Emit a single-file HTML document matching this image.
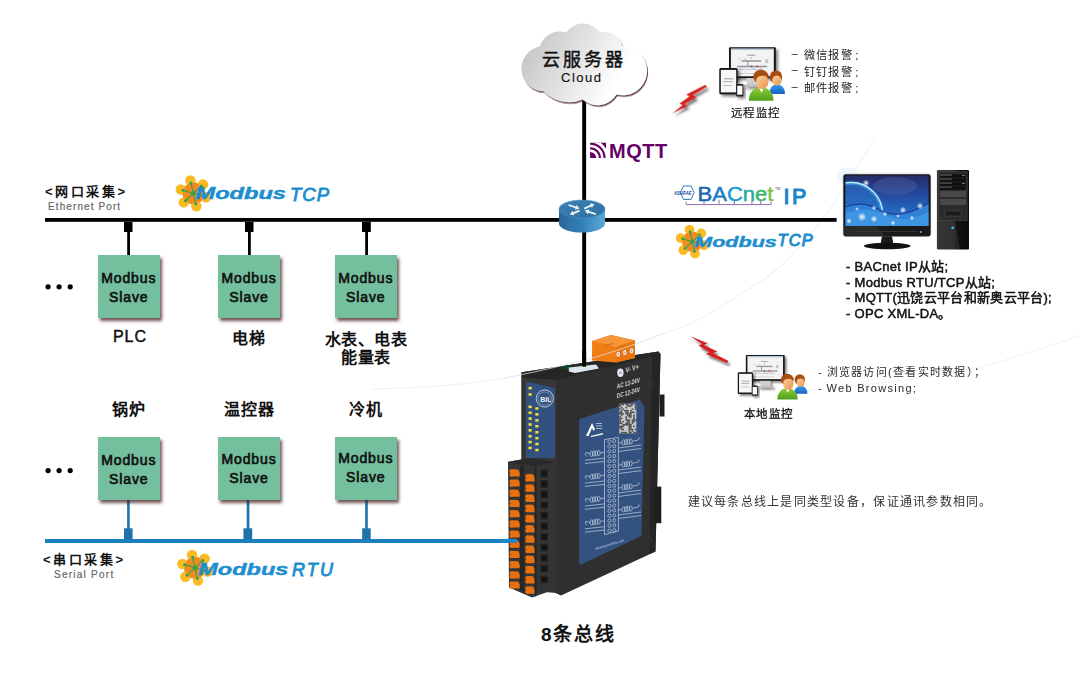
<!DOCTYPE html>
<html lang="zh-CN">
<head>
<meta charset="utf-8">
<style>
html,body{margin:0;padding:0;background:#fff;}
body{width:1080px;height:674px;position:relative;overflow:hidden;font-family:"Liberation Sans",sans-serif;color:#111;}
.a{position:absolute;white-space:nowrap;}
.box{position:absolute;width:62.5px;height:63px;background:#74c09e;box-shadow:2px 3px 3px rgba(70,30,30,0.75);}
.box span{position:absolute;left:0;right:0;text-align:center;font-weight:normal;-webkit-text-stroke:0.65px #111;font-size:14px;color:#111;letter-spacing:0.9px;}
.lbl{position:absolute;font-size:16px;font-weight:bold;color:#111;text-align:center;line-height:18px;}
svg{position:absolute;left:0;top:0;}
.mb{position:absolute;white-space:nowrap;color:#1b8dcc;font-style:italic;line-height:20px;}
.mb b{display:inline-block;font-size:16px;font-weight:bold;transform-origin:0 0;}
.mb i{display:inline-block;font-size:19px;font-weight:normal;font-style:italic;transform-origin:0 0;}
</style>
</head>
<body>
<svg width="1080" height="674" viewBox="0 0 1080 674"><defs>
  <symbol id="fl" overflow="visible"><circle cx="-2.97" cy="-12.86" r="5.2" fill="#fbb923"/><circle cx="9.65" cy="-9.00" r="5.2" fill="#fbb923"/><circle cx="12.62" cy="3.86" r="5.2" fill="#fbb923"/><circle cx="2.97" cy="12.86" r="5.2" fill="#fbb923"/><circle cx="-9.65" cy="9.00" r="5.2" fill="#fbb923"/><circle cx="-12.62" cy="-3.86" r="5.2" fill="#fbb923"/><circle cx="0" cy="0" r="6" fill="#f28a22"/><circle cx="1.90" cy="-6.22" r="4.6" fill="#f28a22"/><circle cx="6.33" cy="-1.46" r="4.6" fill="#f28a22"/><circle cx="4.43" cy="4.75" r="4.6" fill="#f28a22"/><circle cx="-1.90" cy="6.22" r="4.6" fill="#f28a22"/><circle cx="-6.33" cy="1.46" r="4.6" fill="#f28a22"/><circle cx="-4.43" cy="-4.75" r="4.6" fill="#f28a22"/><g stroke="#2aa54a" stroke-width="1.1" fill="#2aa54a"><line x1="0" y1="0" x2="-2.43" y2="-10.52"/><circle cx="-2.43" cy="-10.52" r="1.5" stroke="none"/><line x1="0" y1="0" x2="7.90" y2="-7.37"/><circle cx="7.90" cy="-7.37" r="1.5" stroke="none"/><line x1="0" y1="0" x2="10.33" y2="3.16"/><circle cx="10.33" cy="3.16" r="1.5" stroke="none"/><line x1="0" y1="0" x2="2.43" y2="10.52"/><circle cx="2.43" cy="10.52" r="1.5" stroke="none"/><line x1="0" y1="0" x2="-7.90" y2="7.37"/><circle cx="-7.90" cy="7.37" r="1.5" stroke="none"/><line x1="0" y1="0" x2="-10.33" y2="-3.16"/><circle cx="-10.33" cy="-3.16" r="1.5" stroke="none"/><circle cx="0" cy="0" r="2" fill="none" stroke-width="1"/></g></symbol>
  <linearGradient id="cloudg" x1="518" y1="30" x2="640" y2="100" gradientUnits="userSpaceOnUse">
    <stop offset="0" stop-color="#bcbcbc"/><stop offset="0.45" stop-color="#e2e2e2"/><stop offset="0.8" stop-color="#ffffff"/>
  </linearGradient>
  <filter id="cshadow" x="-10%" y="-10%" width="125%" height="130%">
    <feDropShadow dx="1" dy="1.5" stdDeviation="0.6" flood-color="#5a2e2e" flood-opacity="0.9"/>
  </filter>
  <linearGradient id="rside" x1="0" y1="0" x2="1" y2="0">
    <stop offset="0" stop-color="#2a679a"/><stop offset="0.5" stop-color="#3280b8"/><stop offset="1" stop-color="#5eaad6"/>
  </linearGradient>
  <linearGradient id="rtop" x1="0" y1="0" x2="1" y2="1">
    <stop offset="0" stop-color="#3d82b6"/><stop offset="1" stop-color="#2d6f9f"/>
  </linearGradient>
</defs>
  <g fill="none" stroke="#ebf4fb" stroke-width="1.2" stroke-linecap="round">
    <path d="M372.0,389.0 C383.3,388.5 418.7,387.5 440.0,385.8 C461.3,384.1 474.7,383.5 500.0,378.9 C525.3,374.3 565.3,365.3 592.0,358.0 C618.7,350.7 643.1,341.0 660.0,335.0 C676.9,329.0 684.0,326.4 693.3,322.2 C702.6,318.0 706.7,315.4 715.6,310.0 C724.5,304.6 735.6,297.6 746.7,290.0 C757.9,282.4 768.6,278.1 782.5,264.5 C796.4,250.9 814.8,229.6 830.2,208.5 C845.6,187.4 867.5,149.8 875.0,138.0"/>
    <path d="M795,391.5 C820,389 850,386.5 880,383 C910,379.5 935,376 960,371 C985,366 1000,362 1015.6,356.7 C1035,350 1060,343 1080,335.6"/>
  </g>
  <ellipse cx="848" cy="176" rx="11" ry="9" fill="#eef6fc"/>

  <rect x="45" y="218" width="791.6" height="3.8" fill="#000"/>
  <rect x="582.2" y="100" width="3.9" height="262" fill="#000"/>
  <g fill="#000">
    <rect x="124" y="222" width="8.5" height="10"/><rect x="127.2" y="231" width="2.8" height="24"/>
    <rect x="245" y="222" width="8.5" height="10"/><rect x="248" y="231" width="2.8" height="24"/>
    <rect x="362" y="222" width="8.8" height="10"/><rect x="365.2" y="231" width="2.8" height="24"/>
  </g>
  <g fill="#000">
    <circle cx="48.1" cy="286.8" r="2.6"/><circle cx="59.1" cy="286.8" r="2.6"/><circle cx="70.2" cy="286.8" r="2.6"/>
    <circle cx="48.1" cy="470.6" r="2.6"/><circle cx="59.1" cy="470.6" r="2.6"/><circle cx="70.2" cy="470.6" r="2.6"/>
  </g>
  <rect x="45" y="539" width="472" height="4" fill="#1b7fc0"/>
  <g fill="#1f72aa">
    <rect x="124" y="528.3" width="8.6" height="11"/><rect x="127.1" y="500" width="2.6" height="29"/>
    <rect x="243.4" y="528.3" width="8.8" height="11"/><rect x="246.7" y="500" width="2.7" height="29"/>
    <rect x="362.2" y="528.3" width="8.5" height="11"/><rect x="365.2" y="500" width="2.6" height="29"/>
  </g>
  <g filter="url(#cshadow)" fill="url(#cloudg)">
    <path d="M539.8,46.5 A20.7,20.7 0 0 1 566.3,32.6 A19.7,19.7 0 0 1 599.5,32.6 A19.1,19.1 0 0 1 622.8,46.5 A24.4,24.4 0 1 1 616.5,94.5 A22,22 0 0 1 582.7,99.5 A35,35 0 0 1 543.6,91.3 A22.6,22.6 0 0 1 539.8,46.5 Z"/>
  </g>
  <g>
    <path d="M559,209 L559,223.7 A23,8.9 0 0 0 605,223.7 L605,209 Z" fill="url(#rside)"/>
    <ellipse cx="582" cy="209" rx="23" ry="8.9" fill="url(#rtop)" stroke="#4a90c4" stroke-width="0.6"/>
    <g fill="#eef5fa" stroke="none"><path d="M568.22,205.86 L575.42,208.21 L574.95,209.64 L579.50,208.60 L576.44,205.07 L575.98,206.50 L568.78,204.14 Z"/><path d="M584.57,209.42 L591.21,206.45 L591.83,207.82 L594.50,204.00 L589.87,203.44 L590.48,204.81 L583.83,207.78 Z"/><path d="M579.16,209.77 L573.15,212.24 L572.58,210.86 L569.80,214.60 L574.41,215.29 L573.84,213.91 L579.84,211.43 Z"/><path d="M596.08,213.34 L588.88,210.99 L589.35,209.56 L584.80,210.60 L587.86,214.13 L588.32,212.70 L595.52,215.06 Z"/></g>
  </g>
  <clipPath id="mqclip"><rect x="590.1" y="142.8" width="15.9" height="15.2"/></clipPath>
  <g clip-path="url(#mqclip)">
    <rect x="590" y="142" width="17" height="17" fill="#660066"/>
    <g fill="none" stroke="#fff">
      <circle cx="590.1" cy="158" r="7.4" stroke-width="2.6"/>
      <circle cx="590.1" cy="158" r="12.1" stroke-width="2.5"/>
      <circle cx="590.1" cy="158" r="16.9" stroke-width="2.8"/>
    </g>
  </g>
  <use href="#fl" x="193.4" y="193.4"/>
  <g transform="translate(692.3,241.7) scale(0.93)"><use href="#fl"/></g>
  <use href="#fl" x="195" y="567.8"/>
  <g font-family="Liberation Sans" font-style="italic" fill="#1c8ecf">
    <text x="195.5" y="198.8" font-size="16" font-weight="bold" stroke="#1c8ecf" stroke-width="0.45" textLength="90.5" lengthAdjust="spacingAndGlyphs">Modbus</text>
    <text x="290" y="200.7" font-size="18.5" stroke="#1c8ecf" stroke-width="0.85" textLength="39" lengthAdjust="spacing">TCP</text>
    <text x="694.3" y="246.7" font-size="15" font-weight="bold" stroke="#1c8ecf" stroke-width="0.4" textLength="82.5" lengthAdjust="spacingAndGlyphs">Modbus</text>
    <text x="777.6" y="246.4" font-size="16.3" stroke="#1c8ecf" stroke-width="1" textLength="35" lengthAdjust="spacing">TCP</text>
    <text x="198.3" y="574.6" font-size="17" font-weight="bold" stroke="#1c8ecf" stroke-width="0.45" textLength="90" lengthAdjust="spacingAndGlyphs">Modbus</text>
    <text x="292" y="575.7" font-size="18" stroke="#1c8ecf" stroke-width="0.85" textLength="41" lengthAdjust="spacing">RTU</text>
  </g>
  <g font-family="Liberation Sans" font-weight="bold">
    <polyline points="686.2,201.8 686.2,204.6 771.1,204.6 771.1,201.8" fill="none" stroke="#8d70b0" stroke-width="1"/>
    <g stroke="#8d70b0" stroke-width="1"><line x1="704" y1="200.8" x2="704" y2="204.6"/><line x1="719" y1="199.5" x2="719" y2="204.6"/><line x1="734.4" y1="200.8" x2="734.4" y2="204.6"/><line x1="751.9" y1="200.8" x2="751.9" y2="204.6"/><line x1="760.7" y1="200.8" x2="760.7" y2="204.6"/></g>
    <path d="M683.5,186 L691,186 L694.2,192.6 L691,199.4 L683.5,199.4 L680.3,192.6 Z" fill="#fff" stroke="#2a78c0" stroke-width="1"/>
    <text x="674" y="195" font-size="5.2" fill="#1d4f9c" textLength="17.5" lengthAdjust="spacingAndGlyphs" font-style="italic">ASHRAE</text>
    <text x="697.5" y="200.7" font-size="20.5" font-weight="normal" stroke-width="0.45" textLength="76" lengthAdjust="spacingAndGlyphs"><tspan fill="#1565b0" stroke="#1565b0">B</tspan><tspan fill="#1a7cc4" stroke="#1a7cc4">A</tspan><tspan fill="#1b9ad2" stroke="#1b9ad2">C</tspan><tspan fill="#22a99c" stroke="#22a99c">n</tspan><tspan fill="#3db26a" stroke="#3db26a">e</tspan><tspan fill="#7cc242" stroke="#7cc242">t</tspan></text>
    <text x="775" y="190" font-size="3.5" fill="#888">TM</text>
    <text x="783.6" y="203.6" font-size="21.5" font-weight="normal" stroke="#1a85c8" stroke-width="1.1" fill="#1a85c8" letter-spacing="2.5">IP</text>
  </g>

  <defs>
    <linearGradient id="skin" x1="0" y1="0" x2="1" y2="1">
      <stop offset="0" stop-color="#fbd2a0"/><stop offset="1" stop-color="#e89550"/>
    </linearGradient>
    <linearGradient id="grn" x1="0" y1="0" x2="0" y2="1">
      <stop offset="0" stop-color="#8fcf3a"/><stop offset="1" stop-color="#4f9f1c"/>
    </linearGradient>
    <linearGradient id="blu" x1="0" y1="0" x2="0" y2="1">
      <stop offset="0" stop-color="#3aa0f0"/><stop offset="1" stop-color="#1560c0"/>
    </linearGradient>
    <filter id="dsh" x="-20%" y="-20%" width="150%" height="150%">
      <feDropShadow dx="2.2" dy="2.2" stdDeviation="1.6" flood-color="#000" flood-opacity="0.5"/>
    </filter>
    <filter id="lsh" x="-30%" y="-30%" width="170%" height="170%">
      <feDropShadow dx="2" dy="3" stdDeviation="1.2" flood-color="#000" flood-opacity="0.5"/>
    </filter>
    <symbol id="usr" overflow="visible">
      <g filter="url(#dsh)">
        <rect x="27.5" y="30" width="11.6" height="8" fill="#cfcfcf"/>
        <rect x="24" y="37.5" width="19" height="2" fill="#bdbdbd"/>
        <rect x="9.7" y="0" width="46.8" height="30.9" rx="1" fill="#141414"/>
      </g>
      <rect x="11.6" y="1.5" width="42.9" height="27.6" fill="#f3f3f3"/>
      <g fill="#9a9a9a">
        <rect x="28" y="7.5" width="8" height="1"/>
        <rect x="22" y="13" width="20" height="1.6"/><rect x="28" y="13" width="1.2" height="6"/>
        <rect x="18" y="18.5" width="30" height="1.6"/>
        <rect x="20" y="22" width="24" height="0.8" fill="#c0c0c0"/>
        <rect x="14" y="26" width="30" height="0.8" fill="#c8c8c8"/>
      </g>
      <rect x="31" y="18.5" width="2" height="1.6" fill="#3a70c0"/><rect x="37" y="18.5" width="2" height="1.6" fill="#c04040"/>
      <rect x="11.6" y="1.5" width="42.9" height="1.4" fill="#b4cde6"/>
      <g fill="#b8c8d8"><rect x="19" y="11" width="2" height="1.2"/><rect x="25" y="11" width="2" height="1.2"/><rect x="31" y="10" width="2" height="1.6"/><rect x="46" y="12" width="3" height="4"/><rect x="20" y="21" width="3" height="1"/><rect x="33" y="21" width="3" height="1"/><rect x="40" y="21" width="3" height="1"/></g>
      <rect x="0" y="20.8" width="18.4" height="26.2" rx="1.5" fill="#141414" filter="url(#dsh)"/>
      <rect x="1.5" y="22.7" width="15.4" height="22.5" fill="#f7f7f7"/>
      <g fill="#a8a8a8"><rect x="5" y="31" width="9" height="1.2"/><rect x="4" y="34" width="10" height="1"/><rect x="4" y="38" width="9" height="0.8"/></g>
      <rect x="16.9" y="36.7" width="7.2" height="12.5" rx="1.2" fill="#222" filter="url(#dsh)"/>
      <rect x="17.9" y="38.5" width="5.2" height="9" fill="#fafafa"/>
    </symbol>
    <symbol id="ppl" overflow="visible">
      <!-- back person (blue) -->
      <path d="M50,46.8 Q49.8,38.3 57.8,36.8 Q65.9,38.3 65.8,46.8 Z" fill="url(#blu)"/>
      <ellipse cx="56.7" cy="29.8" rx="6.2" ry="6.6" fill="#a84e14"/>
      <ellipse cx="57.6" cy="33.3" rx="4.7" ry="5.1" fill="url(#skin)"/>
      <path d="M52.2,30 Q55,26.5 61.6,28.5 L61.8,26 Q57,22.5 52,27 Z" fill="#a84e14"/>
      <!-- front person (green) -->
      <path d="M29.6,53.6 Q29.4,41.6 41.9,39.6 Q54.3,41.6 54.2,53.6 Z" fill="url(#grn)"/>
      <path d="M38.5,39.8 L42,44.5 L45.5,39.8 Z" fill="url(#skin)"/>
      <path d="M40.5,41.8 L42.2,45.5 L44,41.6 Z" fill="#fff"/>
      <ellipse cx="41.6" cy="29.6" rx="7.7" ry="7" fill="#a84e14"/>
      <ellipse cx="42.9" cy="34.8" rx="6.3" ry="6.9" fill="url(#skin)"/>
      <path d="M36,31.5 Q40,27 48.8,29.5 L49,27 Q43,22 35.5,27 Z" fill="#a84e14"/>
    </symbol>
  </defs>
  <use href="#usr" x="719.3" y="47.2"/><use href="#ppl" x="719.3" y="47.2"/>
  <g transform="translate(737.8,355) scale(0.83)"><use href="#usr"/><use href="#ppl" x="18"/></g>
  <!-- lightning -->
  <defs>
    <path id="bolt" d="M690.3,336.2 L707.7,343.3 L703.8,344.9 L717.3,351.5 L713,353.2 L728.6,360.9 L726.9,362.9 L705.8,353.9 L709.5,352.2 L698.4,345.6 L702,344 Z"/>
  </defs>
  <g filter="url(#lsh)">
    <use href="#bolt" fill="#d42424"/>
    <g transform="translate(672,113.6) scale(0.914,-1.08) translate(-690.3,-336.2)"><use href="#bolt" fill="#d42424"/></g>
  </g>
<g>
<path d="M521.5,372.3 L658.5,351.5 L660.5,354 L655.5,551.5 L561,595.5 L549,590 L521.5,590 Z" fill="#2f2f2f"/>
<path d="M521.5,372.3 L658.5,351.5 L660.5,354 L556.5,380 L521.5,377.5 Z" fill="#262626"/>
<path d="M521.5,377.5 L556.5,380 L556.5,593 L521.5,590 Z" fill="#363636"/>
<path d="M652,355.5 L660.5,354 L655.5,551.5 L649.5,554 Z" fill="#252525"/>
<rect x="659.5" y="394.5" width="5" height="22" fill="#1e1e1e"/>
<rect x="655" y="486.6" width="6.3" height="36.6" fill="#1e1e1e"/>
<path d="M562.4,366 L569.5,365.3 L569.5,369 L562.4,369.6 Z" fill="#0e4a1e"/>
<path d="M568.8,367.5 L596,364.5 L599,368.5 L575,373 L568.8,371.5 Z" fill="#dde4f2"/>
<rect x="582" y="365" width="5" height="2" fill="#5ae05a"/>
<path d="M592.1,341 L611,335 L635,340.5 L635,358 L616,362.5 L592,360.5 Z" fill="#f07e14"/>
<path d="M592.1,341 L611,335 L635,340.5 L616,347 Z" fill="#f6953a"/>
<path d="M616,347 L635,340.5 L635,358 L616,362.5 Z" fill="#e97510"/>
<path d="M604,345 L614,343 L614,344 L604,346 Z" fill="#c85a00" opacity="0.6"/>
<ellipse cx="618.2" cy="354.3" rx="1.7" ry="2.5" fill="#f4f6fa"/><ellipse cx="618.2" cy="354.3" rx="0.6" ry="1.2" fill="#8aa0c0"/>
<ellipse cx="624.8" cy="352.6" rx="1.7" ry="2.5" fill="#f4f6fa"/><ellipse cx="624.8" cy="352.6" rx="0.6" ry="1.2" fill="#8aa0c0"/>
<ellipse cx="631.6" cy="350.8" rx="1.7" ry="2.5" fill="#f4f6fa"/><ellipse cx="631.6" cy="350.8" rx="0.6" ry="1.2" fill="#8aa0c0"/>
<ellipse cx="620.4" cy="372.7" rx="3.2" ry="4.2" fill="#e2e4ee"/>
<circle cx="620.4" cy="372.7" r="1.2" fill="#aaa"/>
<g fill="#d6d6d6" font-family="Liberation Sans" font-weight="bold">
<text transform="translate(625.4,373) skewY(-16)" font-size="7.5" textLength="13.5" lengthAdjust="spacingAndGlyphs">V- V+</text>
<text transform="translate(616.8,388.7) skewY(-16)" font-size="6.8" textLength="23" lengthAdjust="spacingAndGlyphs">AC 12-24V</text>
<text transform="translate(616.8,398.2) skewY(-16)" font-size="6.8" textLength="23" lengthAdjust="spacingAndGlyphs">DC 12-24V</text>
</g>
<circle cx="581" cy="406" r="2.3" fill="#2a2a2a" stroke="#444" stroke-width="0.5"/>
<circle cx="651.3" cy="384.5" r="2.3" fill="#2a2a2a" stroke="#444" stroke-width="0.5"/>
<circle cx="597" cy="568" r="2.3" fill="#2a2a2a" stroke="#444" stroke-width="0.5"/>
<circle cx="650" cy="540" r="2.3" fill="#2a2a2a" stroke="#444" stroke-width="0.5"/>
<path d="M581,418.5 L640,399.5 L644.5,407.4 L641.5,536 L581,564.5 Q579.1,565 579.1,563 L579.1,420.5 Q579.1,419 581,418.5 Z" fill="#34527f"/>
<rect x="619.3" y="403.7" width="17" height="29.7" fill="#c9c9c9"/>
<rect x="619.30" y="403.70" width="1.55" height="1.57" fill="#4a4a4a"/>
<rect x="619.30" y="405.26" width="1.55" height="1.57" fill="#4a4a4a"/>
<rect x="619.30" y="408.39" width="1.55" height="1.57" fill="#4a4a4a"/>
<rect x="619.30" y="411.51" width="1.55" height="1.57" fill="#4a4a4a"/>
<rect x="619.30" y="413.08" width="1.55" height="1.57" fill="#4a4a4a"/>
<rect x="619.30" y="416.20" width="1.55" height="1.57" fill="#4a4a4a"/>
<rect x="619.30" y="417.77" width="1.55" height="1.57" fill="#4a4a4a"/>
<rect x="619.30" y="419.33" width="1.55" height="1.57" fill="#4a4a4a"/>
<rect x="619.30" y="420.89" width="1.55" height="1.57" fill="#4a4a4a"/>
<rect x="619.30" y="422.46" width="1.55" height="1.57" fill="#4a4a4a"/>
<rect x="619.30" y="425.58" width="1.55" height="1.57" fill="#4a4a4a"/>
<rect x="619.30" y="427.14" width="1.55" height="1.57" fill="#4a4a4a"/>
<rect x="620.84" y="403.70" width="1.55" height="1.57" fill="#4a4a4a"/>
<rect x="620.84" y="406.83" width="1.55" height="1.57" fill="#4a4a4a"/>
<rect x="620.84" y="409.95" width="1.55" height="1.57" fill="#4a4a4a"/>
<rect x="620.84" y="411.51" width="1.55" height="1.57" fill="#4a4a4a"/>
<rect x="620.84" y="413.08" width="1.55" height="1.57" fill="#4a4a4a"/>
<rect x="620.84" y="414.64" width="1.55" height="1.57" fill="#4a4a4a"/>
<rect x="620.84" y="417.77" width="1.55" height="1.57" fill="#4a4a4a"/>
<rect x="620.84" y="422.46" width="1.55" height="1.57" fill="#4a4a4a"/>
<rect x="620.84" y="425.58" width="1.55" height="1.57" fill="#4a4a4a"/>
<rect x="620.84" y="427.14" width="1.55" height="1.57" fill="#4a4a4a"/>
<rect x="620.84" y="428.71" width="1.55" height="1.57" fill="#4a4a4a"/>
<rect x="620.84" y="431.83" width="1.55" height="1.57" fill="#4a4a4a"/>
<rect x="622.39" y="403.70" width="1.55" height="1.57" fill="#4a4a4a"/>
<rect x="622.39" y="408.39" width="1.55" height="1.57" fill="#4a4a4a"/>
<rect x="622.39" y="413.08" width="1.55" height="1.57" fill="#4a4a4a"/>
<rect x="622.39" y="420.89" width="1.55" height="1.57" fill="#4a4a4a"/>
<rect x="622.39" y="424.02" width="1.55" height="1.57" fill="#4a4a4a"/>
<rect x="622.39" y="425.58" width="1.55" height="1.57" fill="#4a4a4a"/>
<rect x="622.39" y="428.71" width="1.55" height="1.57" fill="#4a4a4a"/>
<rect x="622.39" y="431.83" width="1.55" height="1.57" fill="#4a4a4a"/>
<rect x="623.93" y="409.95" width="1.55" height="1.57" fill="#4a4a4a"/>
<rect x="623.93" y="424.02" width="1.55" height="1.57" fill="#4a4a4a"/>
<rect x="623.93" y="431.83" width="1.55" height="1.57" fill="#4a4a4a"/>
<rect x="625.48" y="403.70" width="1.55" height="1.57" fill="#4a4a4a"/>
<rect x="625.48" y="406.83" width="1.55" height="1.57" fill="#4a4a4a"/>
<rect x="625.48" y="409.95" width="1.55" height="1.57" fill="#4a4a4a"/>
<rect x="625.48" y="411.51" width="1.55" height="1.57" fill="#4a4a4a"/>
<rect x="625.48" y="413.08" width="1.55" height="1.57" fill="#4a4a4a"/>
<rect x="625.48" y="416.20" width="1.55" height="1.57" fill="#4a4a4a"/>
<rect x="625.48" y="417.77" width="1.55" height="1.57" fill="#4a4a4a"/>
<rect x="625.48" y="419.33" width="1.55" height="1.57" fill="#4a4a4a"/>
<rect x="625.48" y="422.46" width="1.55" height="1.57" fill="#4a4a4a"/>
<rect x="625.48" y="424.02" width="1.55" height="1.57" fill="#4a4a4a"/>
<rect x="625.48" y="431.83" width="1.55" height="1.57" fill="#4a4a4a"/>
<rect x="627.02" y="403.70" width="1.55" height="1.57" fill="#4a4a4a"/>
<rect x="627.02" y="405.26" width="1.55" height="1.57" fill="#4a4a4a"/>
<rect x="627.02" y="409.95" width="1.55" height="1.57" fill="#4a4a4a"/>
<rect x="627.02" y="411.51" width="1.55" height="1.57" fill="#4a4a4a"/>
<rect x="627.02" y="413.08" width="1.55" height="1.57" fill="#4a4a4a"/>
<rect x="627.02" y="414.64" width="1.55" height="1.57" fill="#4a4a4a"/>
<rect x="627.02" y="419.33" width="1.55" height="1.57" fill="#4a4a4a"/>
<rect x="627.02" y="420.89" width="1.55" height="1.57" fill="#4a4a4a"/>
<rect x="627.02" y="422.46" width="1.55" height="1.57" fill="#4a4a4a"/>
<rect x="627.02" y="424.02" width="1.55" height="1.57" fill="#4a4a4a"/>
<rect x="628.57" y="405.26" width="1.55" height="1.57" fill="#4a4a4a"/>
<rect x="628.57" y="413.08" width="1.55" height="1.57" fill="#4a4a4a"/>
<rect x="628.57" y="414.64" width="1.55" height="1.57" fill="#4a4a4a"/>
<rect x="628.57" y="416.20" width="1.55" height="1.57" fill="#4a4a4a"/>
<rect x="628.57" y="419.33" width="1.55" height="1.57" fill="#4a4a4a"/>
<rect x="628.57" y="420.89" width="1.55" height="1.57" fill="#4a4a4a"/>
<rect x="628.57" y="422.46" width="1.55" height="1.57" fill="#4a4a4a"/>
<rect x="628.57" y="424.02" width="1.55" height="1.57" fill="#4a4a4a"/>
<rect x="628.57" y="425.58" width="1.55" height="1.57" fill="#4a4a4a"/>
<rect x="628.57" y="427.14" width="1.55" height="1.57" fill="#4a4a4a"/>
<rect x="628.57" y="428.71" width="1.55" height="1.57" fill="#4a4a4a"/>
<rect x="628.57" y="430.27" width="1.55" height="1.57" fill="#4a4a4a"/>
<rect x="628.57" y="431.83" width="1.55" height="1.57" fill="#4a4a4a"/>
<rect x="630.12" y="403.70" width="1.55" height="1.57" fill="#4a4a4a"/>
<rect x="630.12" y="405.26" width="1.55" height="1.57" fill="#4a4a4a"/>
<rect x="630.12" y="409.95" width="1.55" height="1.57" fill="#4a4a4a"/>
<rect x="630.12" y="411.51" width="1.55" height="1.57" fill="#4a4a4a"/>
<rect x="630.12" y="413.08" width="1.55" height="1.57" fill="#4a4a4a"/>
<rect x="630.12" y="414.64" width="1.55" height="1.57" fill="#4a4a4a"/>
<rect x="630.12" y="416.20" width="1.55" height="1.57" fill="#4a4a4a"/>
<rect x="630.12" y="424.02" width="1.55" height="1.57" fill="#4a4a4a"/>
<rect x="630.12" y="425.58" width="1.55" height="1.57" fill="#4a4a4a"/>
<rect x="630.12" y="427.14" width="1.55" height="1.57" fill="#4a4a4a"/>
<rect x="630.12" y="428.71" width="1.55" height="1.57" fill="#4a4a4a"/>
<rect x="630.12" y="431.83" width="1.55" height="1.57" fill="#4a4a4a"/>
<rect x="631.66" y="403.70" width="1.55" height="1.57" fill="#4a4a4a"/>
<rect x="631.66" y="408.39" width="1.55" height="1.57" fill="#4a4a4a"/>
<rect x="631.66" y="411.51" width="1.55" height="1.57" fill="#4a4a4a"/>
<rect x="631.66" y="419.33" width="1.55" height="1.57" fill="#4a4a4a"/>
<rect x="631.66" y="420.89" width="1.55" height="1.57" fill="#4a4a4a"/>
<rect x="631.66" y="422.46" width="1.55" height="1.57" fill="#4a4a4a"/>
<rect x="631.66" y="428.71" width="1.55" height="1.57" fill="#4a4a4a"/>
<rect x="631.66" y="430.27" width="1.55" height="1.57" fill="#4a4a4a"/>
<rect x="633.20" y="411.51" width="1.55" height="1.57" fill="#4a4a4a"/>
<rect x="633.20" y="414.64" width="1.55" height="1.57" fill="#4a4a4a"/>
<rect x="633.20" y="416.20" width="1.55" height="1.57" fill="#4a4a4a"/>
<rect x="633.20" y="417.77" width="1.55" height="1.57" fill="#4a4a4a"/>
<rect x="633.20" y="419.33" width="1.55" height="1.57" fill="#4a4a4a"/>
<rect x="633.20" y="420.89" width="1.55" height="1.57" fill="#4a4a4a"/>
<rect x="633.20" y="425.58" width="1.55" height="1.57" fill="#4a4a4a"/>
<rect x="633.20" y="431.83" width="1.55" height="1.57" fill="#4a4a4a"/>
<rect x="634.75" y="403.70" width="1.55" height="1.57" fill="#4a4a4a"/>
<rect x="634.75" y="405.26" width="1.55" height="1.57" fill="#4a4a4a"/>
<rect x="634.75" y="406.83" width="1.55" height="1.57" fill="#4a4a4a"/>
<rect x="634.75" y="408.39" width="1.55" height="1.57" fill="#4a4a4a"/>
<rect x="634.75" y="419.33" width="1.55" height="1.57" fill="#4a4a4a"/>
<rect x="634.75" y="428.71" width="1.55" height="1.57" fill="#4a4a4a"/>
<rect x="634.75" y="431.83" width="1.55" height="1.57" fill="#4a4a4a"/>
<path d="M586,436 L592,423 L595,429 L593.5,431 L592,428 L588.5,436 Z" fill="#fff"/>
<path d="M590.5,436 L603,433 L603,434.5 L591,437 Z" fill="#fff"/>
<g fill="#c8d4e8"><rect x="596" y="423" width="6" height="0.8"/><rect x="596" y="425.5" width="6" height="0.8"/><rect x="596" y="428" width="6" height="0.8"/></g>
<g fill="none" stroke="#c9d5e8" stroke-width="0.75" opacity="0.9">
<path d="M604.5,439.5 L618.4,437.4 L618.4,531 L604.5,534.6 Z"/>
<circle cx="609.4" cy="441.5" r="1.6"/><circle cx="614.2" cy="441.1" r="1.6"/>
<circle cx="609.4" cy="446.4" r="1.6"/><circle cx="614.2" cy="446.1" r="1.6"/>
<circle cx="609.4" cy="451.4" r="1.6"/><circle cx="614.2" cy="451.0" r="1.6"/>
<circle cx="609.4" cy="456.4" r="1.6"/><circle cx="614.2" cy="456.0" r="1.6"/>
<circle cx="609.4" cy="461.3" r="1.6"/><circle cx="614.2" cy="460.9" r="1.6"/>
<circle cx="609.4" cy="466.2" r="1.6"/><circle cx="614.2" cy="465.9" r="1.6"/>
<circle cx="609.4" cy="471.2" r="1.6"/><circle cx="614.2" cy="470.8" r="1.6"/>
<circle cx="609.4" cy="476.1" r="1.6"/><circle cx="614.2" cy="475.8" r="1.6"/>
<circle cx="609.4" cy="481.1" r="1.6"/><circle cx="614.2" cy="480.7" r="1.6"/>
<circle cx="609.4" cy="486.1" r="1.6"/><circle cx="614.2" cy="485.7" r="1.6"/>
<circle cx="609.4" cy="491.0" r="1.6"/><circle cx="614.2" cy="490.6" r="1.6"/>
<circle cx="609.4" cy="495.9" r="1.6"/><circle cx="614.2" cy="495.6" r="1.6"/>
<circle cx="609.4" cy="500.9" r="1.6"/><circle cx="614.2" cy="500.5" r="1.6"/>
<circle cx="609.4" cy="505.9" r="1.6"/><circle cx="614.2" cy="505.5" r="1.6"/>
<circle cx="609.4" cy="510.8" r="1.6"/><circle cx="614.2" cy="510.4" r="1.6"/>
<circle cx="609.4" cy="515.8" r="1.6"/><circle cx="614.2" cy="515.4" r="1.6"/>
<circle cx="609.4" cy="520.7" r="1.6"/><circle cx="614.2" cy="520.3" r="1.6"/>
<circle cx="609.4" cy="525.6" r="1.6"/><circle cx="614.2" cy="525.2" r="1.6"/>
<circle cx="609.4" cy="530.6" r="1.6"/><circle cx="614.2" cy="530.2" r="1.6"/>
<path d="M587,456.5 q-3,-2 -1,-4 L590,454.0"/>
<ellipse cx="591.5" cy="453.9" rx="1.5" ry="2.6"/>
<ellipse cx="593.9" cy="453.6" rx="1.5" ry="2.6"/>
<ellipse cx="596.3" cy="453.3" rx="1.5" ry="2.6"/>
<ellipse cx="598.7" cy="453.0" rx="1.5" ry="2.6"/>
<path d="M600.5,452.7 L604.5,452.3"/>
<path d="M585,460.2 L604.5,458.1"/><path d="M585,463.5 L604.5,461.5"/>
<path d="M587,479.4 q-3,-2 -1,-4 L590,476.9"/>
<ellipse cx="591.5" cy="476.8" rx="1.5" ry="2.6"/>
<ellipse cx="593.9" cy="476.5" rx="1.5" ry="2.6"/>
<ellipse cx="596.3" cy="476.2" rx="1.5" ry="2.6"/>
<ellipse cx="598.7" cy="475.9" rx="1.5" ry="2.6"/>
<path d="M600.5,475.6 L604.5,475.2"/>
<path d="M585,483.1 L604.5,481.0"/><path d="M585,486.4 L604.5,484.4"/>
<path d="M587,502.3 q-3,-2 -1,-4 L590,499.8"/>
<ellipse cx="591.5" cy="499.7" rx="1.5" ry="2.6"/>
<ellipse cx="593.9" cy="499.4" rx="1.5" ry="2.6"/>
<ellipse cx="596.3" cy="499.1" rx="1.5" ry="2.6"/>
<ellipse cx="598.7" cy="498.8" rx="1.5" ry="2.6"/>
<path d="M600.5,498.5 L604.5,498.1"/>
<path d="M585,506.0 L604.5,503.9"/><path d="M585,509.3 L604.5,507.3"/>
<path d="M587,525.1 q-3,-2 -1,-4 L590,522.6"/>
<ellipse cx="591.5" cy="522.5" rx="1.5" ry="2.6"/>
<ellipse cx="593.9" cy="522.2" rx="1.5" ry="2.6"/>
<ellipse cx="596.3" cy="521.9" rx="1.5" ry="2.6"/>
<ellipse cx="598.7" cy="521.6" rx="1.5" ry="2.6"/>
<path d="M600.5,521.3 L604.5,520.9"/>
<path d="M585,528.8 L604.5,526.7"/><path d="M585,532.1 L604.5,530.1"/>
<path d="M618.4,443.0 L622,442.6"/>
<ellipse cx="623.5" cy="442.4" rx="1.5" ry="2.6"/>
<ellipse cx="625.9" cy="442.1" rx="1.5" ry="2.6"/>
<ellipse cx="628.3" cy="441.8" rx="1.5" ry="2.6"/>
<ellipse cx="630.7" cy="441.5" rx="1.5" ry="2.6"/>
<path d="M632.5,441.0 L637,440.4 q3,-1 2,-3"/>
<path d="M618.4,448.0 L641,445.0"/><path d="M618.4,451.5 L641,448.5"/>
<path d="M618.4,465.1 L622,464.7"/>
<ellipse cx="623.5" cy="464.5" rx="1.5" ry="2.6"/>
<ellipse cx="625.9" cy="464.2" rx="1.5" ry="2.6"/>
<ellipse cx="628.3" cy="463.9" rx="1.5" ry="2.6"/>
<ellipse cx="630.7" cy="463.6" rx="1.5" ry="2.6"/>
<path d="M632.5,463.1 L637,462.5 q3,-1 2,-3"/>
<path d="M618.4,470.1 L641,467.1"/><path d="M618.4,473.6 L641,470.6"/>
<path d="M618.4,488.0 L622,487.6"/>
<ellipse cx="623.5" cy="487.4" rx="1.5" ry="2.6"/>
<ellipse cx="625.9" cy="487.1" rx="1.5" ry="2.6"/>
<ellipse cx="628.3" cy="486.8" rx="1.5" ry="2.6"/>
<ellipse cx="630.7" cy="486.5" rx="1.5" ry="2.6"/>
<path d="M632.5,486.0 L637,485.4 q3,-1 2,-3"/>
<path d="M618.4,493.0 L641,490.0"/><path d="M618.4,496.5 L641,493.5"/>
<path d="M618.4,510.0 L622,509.6"/>
<ellipse cx="623.5" cy="509.4" rx="1.5" ry="2.6"/>
<ellipse cx="625.9" cy="509.1" rx="1.5" ry="2.6"/>
<ellipse cx="628.3" cy="508.8" rx="1.5" ry="2.6"/>
<ellipse cx="630.7" cy="508.5" rx="1.5" ry="2.6"/>
<path d="M632.5,508.0 L637,507.4 q3,-1 2,-3"/>
<path d="M618.4,515.0 L641,512.0"/><path d="M618.4,518.5 L641,515.5"/>
</g>
<text transform="translate(595.5,550) rotate(-17)" font-family="Liberation Sans" font-size="3.6" fill="#c8d4e8" textLength="30" lengthAdjust="spacingAndGlyphs">www.bacnetchina.com</text>
<path d="M526,381.5 L555,388 L555,458 L526,458 Z" fill="#33517f"/>
<circle cx="544.8" cy="398.5" r="8.6" fill="none" stroke="#dfe6f2" stroke-width="0.8"/>
<circle cx="544.8" cy="398.5" r="6.6" fill="none" stroke="#dfe6f2" stroke-width="0.4"/>
<text x="540.3" y="401.5" font-family="Liberation Sans" font-weight="bold" font-size="7" fill="#eef2f8">BIL</text>
<rect x="528.5" y="386.9" width="3.2" height="2.5" fill="#f2e23a"/>
<rect x="528.5" y="393.2" width="3.2" height="2.5" fill="#f2e23a"/>
<rect x="528.5" y="405.6" width="3.2" height="2.5" fill="#f2e23a"/>
<rect x="528.5" y="411.5" width="3.2" height="2.5" fill="#f2e23a"/>
<rect x="528.5" y="417.3" width="3.2" height="2.5" fill="#f2e23a"/>
<rect x="528.5" y="423.2" width="3.2" height="2.5" fill="#f2e23a"/>
<rect x="528.5" y="429.1" width="3.2" height="2.5" fill="#f2e23a"/>
<rect x="528.5" y="435.0" width="3.2" height="2.5" fill="#f2e23a"/>
<rect x="528.5" y="440.8" width="3.2" height="2.5" fill="#f2e23a"/>
<rect x="528.5" y="446.7" width="3.2" height="2.5" fill="#f2e23a"/>
<rect x="535.3" y="407.2" width="3.2" height="2.5" fill="#f2e23a"/>
<rect x="535.3" y="413.1" width="3.2" height="2.5" fill="#f2e23a"/>
<rect x="535.3" y="419.1" width="3.2" height="2.5" fill="#f2e23a"/>
<rect x="535.3" y="425.0" width="3.2" height="2.5" fill="#f2e23a"/>
<rect x="535.3" y="431.0" width="3.2" height="2.5" fill="#f2e23a"/>
<rect x="535.3" y="436.9" width="3.2" height="2.5" fill="#f2e23a"/>
<rect x="535.3" y="442.8" width="3.2" height="2.5" fill="#f2e23a"/>
<rect x="535.3" y="448.8" width="3.2" height="2.5" fill="#f2e23a"/>
<path d="M508,462 L530,458 L556,462 L556,589 L532,597.5 L509,587.5 Z" fill="#343434"/>
<path d="M507,462 L530,458 L556,462 L535,466 Z" fill="#2a2a2a"/>
<path d="M520,466 L524,466 L524,592 L520,590.5 Z" fill="#262626"/>
<path d="M535,466 L536.5,466 L536.5,596 L535,596.5 Z" fill="#222"/>
<rect x="540" y="469.0" width="8.5" height="8.6" fill="#232323" stroke="#3c3c3c" stroke-width="0.5"/>
<rect x="541.5" y="471.0" width="5.5" height="4.6" fill="#141414"/>
<rect x="540" y="479.6" width="8.5" height="8.6" fill="#232323" stroke="#3c3c3c" stroke-width="0.5"/>
<rect x="541.5" y="481.6" width="5.5" height="4.6" fill="#141414"/>
<rect x="540" y="490.2" width="8.5" height="8.6" fill="#232323" stroke="#3c3c3c" stroke-width="0.5"/>
<rect x="541.5" y="492.2" width="5.5" height="4.6" fill="#141414"/>
<rect x="540" y="500.8" width="8.5" height="8.6" fill="#232323" stroke="#3c3c3c" stroke-width="0.5"/>
<rect x="541.5" y="502.8" width="5.5" height="4.6" fill="#141414"/>
<rect x="540" y="511.4" width="8.5" height="8.6" fill="#232323" stroke="#3c3c3c" stroke-width="0.5"/>
<rect x="541.5" y="513.4" width="5.5" height="4.6" fill="#141414"/>
<rect x="540" y="522.0" width="8.5" height="8.6" fill="#232323" stroke="#3c3c3c" stroke-width="0.5"/>
<rect x="541.5" y="524.0" width="5.5" height="4.6" fill="#141414"/>
<rect x="540" y="532.6" width="8.5" height="8.6" fill="#232323" stroke="#3c3c3c" stroke-width="0.5"/>
<rect x="541.5" y="534.6" width="5.5" height="4.6" fill="#141414"/>
<rect x="540" y="543.2" width="8.5" height="8.6" fill="#232323" stroke="#3c3c3c" stroke-width="0.5"/>
<rect x="541.5" y="545.2" width="5.5" height="4.6" fill="#141414"/>
<rect x="540" y="553.8" width="8.5" height="8.6" fill="#232323" stroke="#3c3c3c" stroke-width="0.5"/>
<rect x="541.5" y="555.8" width="5.5" height="4.6" fill="#141414"/>
<rect x="540" y="564.4" width="8.5" height="8.6" fill="#232323" stroke="#3c3c3c" stroke-width="0.5"/>
<rect x="541.5" y="566.4" width="5.5" height="4.6" fill="#141414"/>
<rect x="540" y="575.0" width="8.5" height="8.6" fill="#232323" stroke="#3c3c3c" stroke-width="0.5"/>
<rect x="541.5" y="577.0" width="5.5" height="4.6" fill="#141414"/>
<path d="M511.5,469.2 L518.0,469.4 Q519.7,471.3 519.7,473.8 L519.5,476.4 L511.5,476.4 Z" fill="#e8700e"/>
<circle cx="511.4" cy="471.2" r="2" fill="#e8700e"/><circle cx="511.4" cy="474.7" r="2" fill="#e8700e"/>
<path d="M511.5,479.4 L518.0,479.6 Q519.7,481.5 519.7,484.0 L519.5,486.6 L511.5,486.6 Z" fill="#e8700e"/>
<circle cx="511.4" cy="481.4" r="2" fill="#e8700e"/><circle cx="511.4" cy="484.9" r="2" fill="#e8700e"/>
<path d="M511.5,489.6 L518.0,489.8 Q519.7,491.7 519.7,494.2 L519.5,496.8 L511.5,496.8 Z" fill="#e8700e"/>
<circle cx="511.4" cy="491.6" r="2" fill="#e8700e"/><circle cx="511.4" cy="495.1" r="2" fill="#e8700e"/>
<path d="M511.5,499.8 L518.0,500.0 Q519.7,501.9 519.7,504.4 L519.5,507.0 L511.5,507.0 Z" fill="#e8700e"/>
<circle cx="511.4" cy="501.8" r="2" fill="#e8700e"/><circle cx="511.4" cy="505.3" r="2" fill="#e8700e"/>
<path d="M511.5,510.0 L518.0,510.2 Q519.7,512.1 519.7,514.6 L519.5,517.2 L511.5,517.2 Z" fill="#e8700e"/>
<circle cx="511.4" cy="512.0" r="2" fill="#e8700e"/><circle cx="511.4" cy="515.5" r="2" fill="#e8700e"/>
<path d="M511.5,520.2 L518.0,520.4 Q519.7,522.3 519.7,524.8 L519.5,527.4 L511.5,527.4 Z" fill="#e8700e"/>
<circle cx="511.4" cy="522.2" r="2" fill="#e8700e"/><circle cx="511.4" cy="525.7" r="2" fill="#e8700e"/>
<path d="M511.5,530.4 L518.0,530.6 Q519.7,532.5 519.7,535.0 L519.5,537.6 L511.5,537.6 Z" fill="#e8700e"/>
<circle cx="511.4" cy="532.4" r="2" fill="#e8700e"/><circle cx="511.4" cy="535.9" r="2" fill="#e8700e"/>
<path d="M511.5,540.6 L518.0,540.8 Q519.7,542.7 519.7,545.2 L519.5,547.8 L511.5,547.8 Z" fill="#e8700e"/>
<circle cx="511.4" cy="542.6" r="2" fill="#e8700e"/><circle cx="511.4" cy="546.1" r="2" fill="#e8700e"/>
<path d="M511.5,550.8 L518.0,551.0 Q519.7,552.9 519.7,555.4 L519.5,558.0 L511.5,558.0 Z" fill="#e8700e"/>
<circle cx="511.4" cy="552.8" r="2" fill="#e8700e"/><circle cx="511.4" cy="556.3" r="2" fill="#e8700e"/>
<path d="M511.5,561.0 L518.0,561.2 Q519.7,563.1 519.7,565.6 L519.5,568.2 L511.5,568.2 Z" fill="#e8700e"/>
<circle cx="511.4" cy="563.0" r="2" fill="#e8700e"/><circle cx="511.4" cy="566.5" r="2" fill="#e8700e"/>
<path d="M511.5,571.2 L518.0,571.4 Q519.7,573.3 519.7,575.8 L519.5,578.4 L511.5,578.4 Z" fill="#e8700e"/>
<circle cx="511.4" cy="573.2" r="2" fill="#e8700e"/><circle cx="511.4" cy="576.7" r="2" fill="#e8700e"/>
<path d="M511.5,581.4 L518.0,581.6 Q519.7,583.5 519.7,586.0 L519.5,588.6 L511.5,588.6 Z" fill="#e8700e"/>
<circle cx="511.4" cy="583.4" r="2" fill="#e8700e"/><circle cx="511.4" cy="586.9" r="2" fill="#e8700e"/>
<path d="M527.0,474.0 L533.0,474.2 Q534.5,476.3 534.5,478.8 L534.5,481.6 L527.0,481.6 Z" fill="#e8700e"/>
<circle cx="527.1" cy="476.1" r="1.9" fill="#e8700e"/><circle cx="527.1" cy="479.7" r="1.9" fill="#e8700e"/>
<path d="M527.0,484.2 L533.0,484.4 Q534.5,486.5 534.5,489.0 L534.5,491.8 L527.0,491.8 Z" fill="#e8700e"/>
<circle cx="527.1" cy="486.3" r="1.9" fill="#e8700e"/><circle cx="527.1" cy="489.9" r="1.9" fill="#e8700e"/>
<path d="M527.0,494.4 L533.0,494.6 Q534.5,496.7 534.5,499.2 L534.5,502.0 L527.0,502.0 Z" fill="#e8700e"/>
<circle cx="527.1" cy="496.5" r="1.9" fill="#e8700e"/><circle cx="527.1" cy="500.1" r="1.9" fill="#e8700e"/>
<path d="M527.0,504.6 L533.0,504.8 Q534.5,506.9 534.5,509.4 L534.5,512.2 L527.0,512.2 Z" fill="#e8700e"/>
<circle cx="527.1" cy="506.7" r="1.9" fill="#e8700e"/><circle cx="527.1" cy="510.3" r="1.9" fill="#e8700e"/>
<path d="M527.0,514.8 L533.0,515.0 Q534.5,517.1 534.5,519.6 L534.5,522.4 L527.0,522.4 Z" fill="#e8700e"/>
<circle cx="527.1" cy="516.9" r="1.9" fill="#e8700e"/><circle cx="527.1" cy="520.5" r="1.9" fill="#e8700e"/>
<path d="M527.0,525.0 L533.0,525.2 Q534.5,527.3 534.5,529.8 L534.5,532.6 L527.0,532.6 Z" fill="#e8700e"/>
<circle cx="527.1" cy="527.1" r="1.9" fill="#e8700e"/><circle cx="527.1" cy="530.7" r="1.9" fill="#e8700e"/>
<path d="M527.0,535.2 L533.0,535.4 Q534.5,537.5 534.5,540.0 L534.5,542.8 L527.0,542.8 Z" fill="#e8700e"/>
<circle cx="527.1" cy="537.3" r="1.9" fill="#e8700e"/><circle cx="527.1" cy="540.9" r="1.9" fill="#e8700e"/>
<path d="M527.0,545.4 L533.0,545.6 Q534.5,547.7 534.5,550.2 L534.5,553.0 L527.0,553.0 Z" fill="#e8700e"/>
<circle cx="527.1" cy="547.5" r="1.9" fill="#e8700e"/><circle cx="527.1" cy="551.1" r="1.9" fill="#e8700e"/>
<path d="M527.0,555.6 L533.0,555.8 Q534.5,557.9 534.5,560.4 L534.5,563.2 L527.0,563.2 Z" fill="#e8700e"/>
<circle cx="527.1" cy="557.7" r="1.9" fill="#e8700e"/><circle cx="527.1" cy="561.3" r="1.9" fill="#e8700e"/>
<path d="M527.0,565.8 L533.0,566.0 Q534.5,568.1 534.5,570.6 L534.5,573.4 L527.0,573.4 Z" fill="#e8700e"/>
<circle cx="527.1" cy="567.9" r="1.9" fill="#e8700e"/><circle cx="527.1" cy="571.5" r="1.9" fill="#e8700e"/>
<path d="M527.0,576.0 L533.0,576.2 Q534.5,578.3 534.5,580.8 L534.5,583.6 L527.0,583.6 Z" fill="#e8700e"/>
<circle cx="527.1" cy="578.1" r="1.9" fill="#e8700e"/><circle cx="527.1" cy="581.7" r="1.9" fill="#e8700e"/>
<path d="M527.0,586.2 L533.0,586.4 Q534.5,588.5 534.5,591.0 L534.5,593.8 L527.0,593.8 Z" fill="#e8700e"/>
<circle cx="527.1" cy="588.3" r="1.9" fill="#e8700e"/><circle cx="527.1" cy="591.9" r="1.9" fill="#e8700e"/>
</g><clipPath id="devclip"><rect x="505" y="330" width="160" height="60"/></clipPath>
  <path clip-path="url(#devclip)" fill="none" stroke="#dbe8f2" stroke-width="0.9" opacity="0.8" d="M372.0,389.0 C383.3,388.5 418.7,387.5 440.0,385.8 C461.3,384.1 474.7,383.5 500.0,378.9 C525.3,374.3 565.3,365.3 592.0,358.0 C618.7,350.7 643.1,341.0 660.0,335.0 C676.9,329.0 684.0,326.4 693.3,322.2"/><rect x="582.2" y="350" width="3.9" height="16.5" fill="#000"/><rect x="500" y="538.9" width="17.2" height="3.9" fill="#1b86c8"/>
  <defs>
    <linearGradient id="scr" x1="0" y1="0" x2="0" y2="1">
      <stop offset="0" stop-color="#262a66"/><stop offset="0.35" stop-color="#24479a"/><stop offset="0.7" stop-color="#2466c0"/><stop offset="1" stop-color="#3a8ad8"/>
    </linearGradient>
    <radialGradient id="glow" cx="0.5" cy="0.5" r="0.5">
      <stop offset="0" stop-color="#fff" stop-opacity="0.95"/><stop offset="1" stop-color="#fff" stop-opacity="0"/>
    </radialGradient>
    <linearGradient id="twr" x1="0" y1="0" x2="1" y2="0">
      <stop offset="0" stop-color="#3a3a3a"/><stop offset="0.55" stop-color="#2a2a2a"/><stop offset="0.6" stop-color="#111"/><stop offset="1" stop-color="#0c0c0c"/>
    </linearGradient>
  </defs>
  <!-- monitor -->
  <rect x="843.4" y="174.3" width="87.2" height="62" rx="2.5" fill="#161616" stroke="#4a4a4a" stroke-width="0.6"/>
  <rect x="845.5" y="175.5" width="83.1" height="50.5" fill="url(#scr)"/>
  <clipPath id="scrclip"><rect x="845.5" y="175.5" width="83.1" height="50.5"/></clipPath>
  <g clip-path="url(#scrclip)">
    <ellipse cx="895" cy="186" rx="22" ry="9" fill="#5a66a8" opacity="0.35"/>
    <circle cx="851" cy="214" r="31" fill="#2b78cf" opacity="0.55"/>
    <circle cx="851" cy="214" r="31" fill="none" stroke="#4ab4f4" stroke-width="4" opacity="0.45"/>
    <circle cx="851" cy="214" r="31.5" fill="none" stroke="#b8ecff" stroke-width="1.3"/>
    <path d="M845.5,207 Q 862,200 880,210 Q 900,221 928.6,203 L928.6,226 L845.5,226 Z" fill="#2f82d8"/>
    <path d="M845.5,213 Q 868,206 888,216 Q 906,224 928.6,212 L928.6,226 L845.5,226 Z" fill="#3d95e4"/>
    <path d="M845.5,207 Q 862,200 880,210 Q 900,221 928.6,203" fill="none" stroke="#1e3c92" stroke-width="1.2"/>
    <circle cx="866" cy="183" r="3.5" fill="url(#glow)"/>
    <circle cx="862" cy="217" r="4.5" fill="url(#glow)"/>
    <circle cx="874" cy="219" r="3.5" fill="url(#glow)"/>
    <circle cx="885" cy="214" r="2.5" fill="url(#glow)"/>
    <circle cx="903" cy="210" r="3.5" fill="url(#glow)"/>
    <circle cx="920" cy="206" r="3.5" fill="url(#glow)"/>
    <circle cx="849" cy="221" r="3" fill="url(#glow)"/>
    <circle cx="893" cy="223" r="2.5" fill="url(#glow)"/>
    <circle cx="912" cy="218" r="2.5" fill="url(#glow)"/>
    <circle cx="874" cy="208" r="2.5" fill="url(#glow)"/>
    <circle cx="898" cy="216" r="2" fill="url(#glow)"/>
    <circle cx="857" cy="209" r="2" fill="url(#glow)"/>
  </g>

  <rect x="844" y="226" width="86" height="9.6" rx="1.5" fill="#1a1a1a"/>
  <path d="M844,226 L878,226 L884,235.8 L844,235.8 Z" fill="#2a2a2a"/>
  <rect x="855" y="231" width="63" height="0.8" fill="#3a3a3a"/>
  <circle cx="920.9" cy="232" r="1" fill="#3ab8ff"/>
  <path d="M882,236.3 L892,236.3 L893.5,244.8 L880.5,244.8 Z" fill="#1a1a1a"/>
  <ellipse cx="887.2" cy="246" rx="23.4" ry="3.2" fill="#111"/>
  <!-- tower -->
  <rect x="936.9" y="170.1" width="32.1" height="79.3" rx="1.2" fill="url(#twr)"/>
  <rect x="938.7" y="171.7" width="28.4" height="48.7" fill="#2b2b2b" stroke="#505050" stroke-width="0.5"/>
  <g fill="#0f0f0f">
    <rect x="940" y="174.3" width="26" height="3.3"/><rect x="940" y="178.4" width="26" height="3.3"/>
    <rect x="940" y="182.4" width="26" height="3.3"/><rect x="940" y="186.4" width="26" height="3.3"/>
  </g>
  <g fill="#4a4a4a">
    <rect x="940" y="174.3" width="12" height="1.5"/><rect x="940" y="178.4" width="12" height="1.5"/>
    <rect x="940" y="182.4" width="12" height="1.5"/><rect x="940" y="186.4" width="12" height="1.5"/>
    <rect x="940" y="191" width="26" height="6" fill="#4a4a4a"/><rect x="940" y="199" width="26" height="6" fill="#4a4a4a"/>
  </g>
  <rect x="962" y="175" width="3" height="0.8" fill="#4ac04a"/><rect x="962" y="183" width="3" height="0.8" fill="#4ac04a"/>
  <rect x="945" y="211" width="16" height="5" fill="#1a1a1a" stroke="#505050" stroke-width="0.5"/>
  <path d="M937.5,221 L955,221 L960,249 L937.5,249 Z" fill="#333" opacity="0.6"/>
  <circle cx="952.7" cy="227.8" r="1.4" fill="#3ab8f0"/>
</svg>
<div class="box" style="left:97.5px;top:255px;"><span style="top:15px">Modbus</span><span style="top:34px">Slave</span></div>
<div class="box" style="left:217.8px;top:255px;"><span style="top:15px">Modbus</span><span style="top:34px">Slave</span></div>
<div class="box" style="left:334.5px;top:255px;"><span style="top:15px">Modbus</span><span style="top:34px">Slave</span></div>
<div class="box" style="left:97.5px;top:437px;"><span style="top:15.3px">Modbus</span><span style="top:34.3px">Slave</span></div>
<div class="box" style="left:217.8px;top:437px;"><span style="top:13.5px">Modbus</span><span style="top:32.5px">Slave</span></div>
<div class="box" style="left:334.5px;top:437px;"><span style="top:13.1px">Modbus</span><span style="top:32.1px">Slave</span></div>

<div class="lbl" style="left:99px;top:328px;width:62px;font-weight:normal;-webkit-text-stroke:0.45px #111;font-size:16px;letter-spacing:1px;">PLC</div>
<div class="lbl" style="left:219px;top:330px;width:60px;letter-spacing:1px;">电梯</div>
<div class="lbl" style="left:316px;top:331px;width:100px;line-height:17.5px;letter-spacing:0.5px;">水表、电表<br>能量表</div>
<div class="lbl" style="left:99px;top:401px;width:60px;letter-spacing:1px;">锅炉</div>
<div class="lbl" style="left:219px;top:401px;width:60px;letter-spacing:1px;">温控器</div>
<div class="lbl" style="left:336px;top:401px;width:60px;letter-spacing:1px;">冷机</div>
<div class="a" style="left:45px;top:184px;font-size:13px;font-weight:bold;letter-spacing:2.6px;line-height:15px;">&lt;网口采集&gt;</div>
<div class="a" style="left:48px;top:201px;font-size:10px;letter-spacing:1.1px;color:#666;-webkit-text-stroke:0.2px #666;line-height:12px;">Ethernet Port</div>
<div class="a" style="left:43px;top:552px;font-size:13px;font-weight:bold;letter-spacing:2.6px;line-height:15px;">&lt;串口采集&gt;</div>
<div class="a" style="left:54px;top:569px;font-size:10px;letter-spacing:1.25px;color:#666;-webkit-text-stroke:0.2px #666;line-height:12px;">Serial Port</div>
<div class="a" style="left:542px;top:50px;font-size:18px;-webkit-text-stroke:0.45px #111;letter-spacing:3px;line-height:20px;color:#111;">云服务器</div>
<div class="a" style="left:561px;top:70px;font-size:13px;-webkit-text-stroke:0.15px #111;letter-spacing:1.5px;line-height:15px;color:#111;">Cloud</div>
<div class="a" style="left:609px;top:139.5px;font-size:20px;font-weight:bold;letter-spacing:0.5px;line-height:22px;color:#660066;">MQTT</div>
<div class="a" style="left:791.5px;top:45px;font-size:11px;line-height:16.3px;color:#333;">&ndash;<br>&ndash;<br>&ndash;</div>
<div class="a" style="left:804px;top:47.3px;font-size:11.3px;letter-spacing:1.2px;line-height:16.3px;color:#222;">微信报警<span style="letter-spacing:0;margin-left:2.5px">;</span><br>钉钉报警<span style="letter-spacing:0;margin-left:2.5px">;</span><br>邮件报警<span style="letter-spacing:0;margin-left:2.5px">;</span></div>
<div class="a" style="left:731px;top:106px;font-size:11.5px;letter-spacing:1.3px;-webkit-text-stroke:0.2px #111;line-height:14px;color:#111;">远程监控</div>
<div class="a" style="left:846px;top:259px;font-size:13px;font-weight:500;-webkit-text-stroke:0.5px #111;letter-spacing:0.3px;line-height:15.7px;color:#111;">- BACnet IP从站;<br>- Modbus RTU/TCP从站;<br>- MQTT(迅饶云平台和新奥云平台);<br>- OPC XML-DA。</div>
<div class="a" style="left:818px;top:363.5px;font-size:11px;line-height:16.8px;color:#333;">-<br>-</div>
<div class="a" style="left:826.5px;top:363.5px;font-size:11px;letter-spacing:1.3px;line-height:16.8px;color:#2a2a2a;">浏览器访问(查看实时数据）；<br>Web Browsing;</div>
<div class="a" style="left:744px;top:407px;font-size:11.5px;letter-spacing:1.3px;-webkit-text-stroke:0.3px #111;line-height:14px;color:#111;">本地监控</div>
<div class="a" style="left:687.5px;top:495px;font-size:12px;letter-spacing:1.27px;line-height:14px;color:#333;">建议每条总线上是同类型设备，保证通讯参数相同。</div>
<div class="a" style="left:541px;top:624px;font-size:19px;font-weight:bold;letter-spacing:1.7px;line-height:22px;color:#111;">8条总线</div>

</body>
</html>
